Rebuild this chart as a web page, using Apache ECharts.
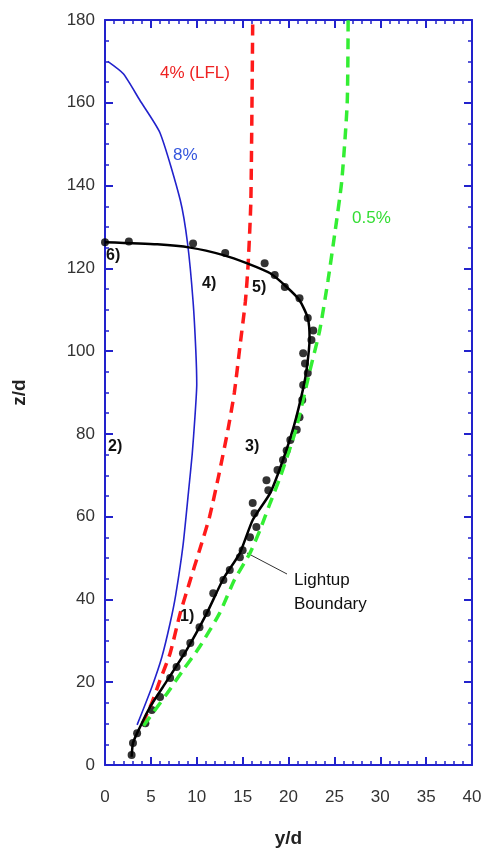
<!DOCTYPE html>
<html>
<head>
<meta charset="utf-8">
<script src="https://cdn.jsdelivr.net/npm/echarts@6/dist/echarts.min.js"></script>
<style>
  html, body { margin: 0; padding: 0; background: #fff; }
  #chart { width: 485px; height: 854px; }
</style>
</head>
<body>
<div id="chart"></div>
<script>
// 8% 等浓度线
const line8 = [[0.3, 170], [2, 167], [3.8, 160.6], [6, 152.7], [8.2, 136.5], [9, 126], [9.6, 112],
  [9.9, 100], [10, 92], [9.8, 84], [9.5, 75], [9.1, 66], [8.5, 53], [7.7, 41], [7.1, 34.3], [6.2, 26.1],
  [5.1, 18.8], [3.5, 9.7]];
// 4% (LFL)
const line4 = [[4.1, 10], [5.1, 15], [6, 20.5], [7.1, 27], [8.2, 36.7], [9.2, 44], [10.3, 51.9], [11.4, 60],
  [12.4, 70], [13.4, 81], [14.1, 90], [14.7, 101], [15.3, 112], [15.6, 121], [15.9, 136.5], [16.1, 180]];
// 0.5%
const line05 = [[4.2, 9.5], [4.9, 11.6], [6.8, 17.4], [8.5, 22.9], [10.3, 28.5], [12.5, 36.7], [14.1, 44.7],
  [15.8, 51.2], [16.9, 56.8], [18, 63.3], [19.1, 69.6], [20.8, 81], [22.3, 95], [23.4, 105], [24.3, 117],
  [25.05, 128.5], [25.8, 141], [26.4, 160], [26.5, 180]];
// 点火边界拟合线
const boundaryLine = [[2.9, 2], [3.05, 5.3], [3.5, 7.7], [4.9, 14], [6.8, 20.5], [8.9, 27.8], [11.1, 36.7],
  [12.9, 45], [14.7, 51.2], [16.1, 59.2], [18, 65.7], [19.4, 73.7], [20.6, 82], [21.6, 91], [22, 96],
  [22.3, 103], [22.1, 108], [21.2, 112.3], [19.8, 115.5], [18, 118.8], [15.5, 121.2], [12.9, 123.2],
  [9.3, 125], [5.7, 125.8], [0, 126.3]];
// 实验点
const boundaryPts = [[0, 126.3], [2.6, 126.5], [9.6, 126], [13.1, 123.7], [17.4, 121.2], [18.5, 118.4],
  [19.6, 115.5], [21.2, 112.8], [22.1, 108], [22.7, 105], [22.5, 102.7], [21.6, 99.5], [21.8, 97],
  [22.1, 94.7], [21.6, 91.8], [21.5, 88.2], [21.2, 84], [20.9, 81], [20.2, 78.5], [19.8, 76], [19.4, 73.7],
  [18.8, 71.3], [17.6, 68.8], [17.8, 66.4], [16.1, 63.3], [16.3, 60.8], [16.5, 57.5], [15.8, 55], [15.0, 51.9],
  [14.7, 50.2], [13.6, 47.1], [12.9, 44.7], [11.8, 41.5], [11.1, 36.7], [10.3, 33.3], [9.3, 29.5], [8.5, 27],
  [7.8, 23.7], [7.1, 21], [6.0, 16.4], [5.1, 13.3], [4.4, 10.1], [3.5, 7.7], [3.05, 5.3], [2.9, 2.4]];

const axisBlue = '#2222cc';
const font = 'Liberation Sans, Arial, sans-serif';

function frameAxis(pos, isX) {
  return {
    type: 'value',
    position: pos,
    min: 0,
    max: isX ? 40 : 180,
    interval: isX ? 5 : 20,
    axisLine: { show: true, onZero: false, lineStyle: { color: axisBlue, width: 2 } },
    axisTick: { show: true, inside: true, length: 8, lineStyle: { color: axisBlue, width: 2 } },
    minorTick: { show: true, splitNumber: isX ? 5 : 4, length: 4, lineStyle: { color: axisBlue, width: 1.5 } },
    axisLabel: { show: false },
    splitLine: { show: false },
  };
}

const xMain = Object.assign(frameAxis('bottom', true), {
  name: 'y/d',
  nameLocation: 'middle',
  nameGap: 64,
  nameTextStyle: { fontFamily: font, fontSize: 19, fontWeight: 'bold', color: '#222' },
  axisLabel: { show: true, margin: 24, fontFamily: font, fontSize: 17, color: '#333' },
});
const yMain = Object.assign(frameAxis('left', false), {
  name: 'z/d',
  nameLocation: 'middle',
  nameGap: 76,
  nameTextStyle: { fontFamily: font, fontSize: 19, fontWeight: 'bold', color: '#222' },
  axisLabel: { show: true, margin: 10, fontFamily: font, fontSize: 17, color: '#333' },
});

const chart = echarts.init(document.getElementById('chart'));

const textStyle = (color, size) => ({ fontFamily: font, fontSize: size || 17, fill: color });

chart.setOption({
  animation: false,
  backgroundColor: '#fff',
  grid: { left: 105, right: 13, top: 20, bottom: 89 },
  xAxis: [xMain, frameAxis('top', true)],
  yAxis: [yMain, frameAxis('right', false)],
  series: [
    {
      name: '8%', type: 'line', data: line8, showSymbol: false, smooth: 0.2,
      lineStyle: { color: '#2222cc', width: 1.6 },
    },
    {
      name: '4% (LFL)', type: 'line', data: line4, showSymbol: false, smooth: 0.2,
      lineStyle: { color: '#ff1a1a', width: 3.5, type: [11, 7] },
    },
    {
      name: '0.5%', type: 'line', data: line05, showSymbol: false, smooth: 0.2,
      lineStyle: { color: '#33ee33', width: 3.5, type: [11, 7] },
    },
    {
      name: 'Lightup Boundary', type: 'line', data: boundaryLine, showSymbol: false, smooth: 0.2,
      lineStyle: { color: '#000', width: 2.5 },
    },
    {
      name: 'points', type: 'scatter', data: boundaryPts, symbolSize: 8,
      itemStyle: { color: '#000' },
    },
  ],
  graphic: [
    { type: 'text', left: 160, top: 65, style: Object.assign({ text: '4% (LFL)' }, textStyle('#ee2222')) },
    { type: 'text', left: 173, top: 147, style: Object.assign({ text: '8%' }, textStyle('#3355dd')) },
    { type: 'text', left: 352, top: 210, style: Object.assign({ text: '0.5%' }, textStyle('#33dd33')) },
    { type: 'text', left: 106, top: 248, style: Object.assign({ text: '6)', fontWeight: 'bold' }, textStyle('#111', 16)) },
    { type: 'text', left: 202, top: 276, style: Object.assign({ text: '4)', fontWeight: 'bold' }, textStyle('#111', 16)) },
    { type: 'text', left: 252, top: 280, style: Object.assign({ text: '5)', fontWeight: 'bold' }, textStyle('#111', 16)) },
    { type: 'text', left: 108, top: 439, style: Object.assign({ text: '2)', fontWeight: 'bold' }, textStyle('#111', 16)) },
    { type: 'text', left: 245, top: 439, style: Object.assign({ text: '3)', fontWeight: 'bold' }, textStyle('#111', 16)) },
    { type: 'text', left: 180, top: 609, style: Object.assign({ text: '1)', fontWeight: 'bold' }, textStyle('#111', 16)) },
    { type: 'text', left: 294, top: 568, style: Object.assign({ text: 'Lightup\nBoundary', lineHeight: 24 }, textStyle('#111', 17)) },
    { type: 'line', shape: { x1: 247, y1: 553, x2: 287, y2: 574 }, style: { stroke: '#333', lineWidth: 1 } },
  ],
});
</script>
</body>
</html>
